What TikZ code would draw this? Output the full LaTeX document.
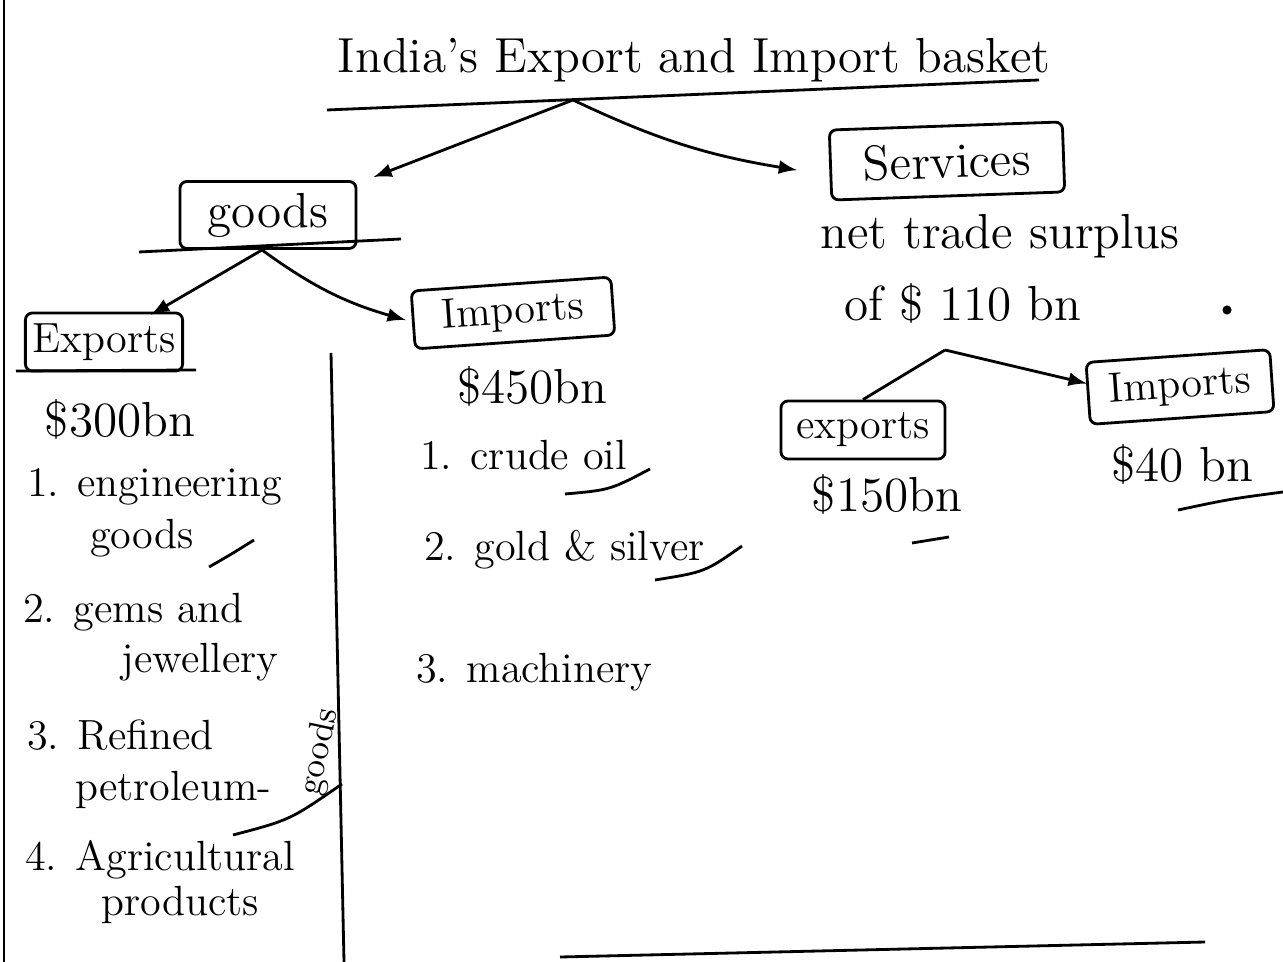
\documentclass[tikz,border=0pt]{standalone}
\usepackage{tikz}
\usetikzlibrary{shapes, arrows.meta, positioning}

\begin{document}
\begin{tikzpicture}[x=0.01cm, y=-0.01cm, thick,
    font=\fontsize{12}{14}\selectfont,
    box/.style={draw, rounded corners=2pt, inner sep=2pt, text centered},
    big/.style={font=\fontsize{14}{16}\selectfont}]

\useasboundingbox (0,0) rectangle (1283,962);

% Title
\node[big] (title) at (694,60) {India's Export and Import basket};
\coordinate (tl) at (327,110);
\coordinate (tr) at (1039,80);
\coordinate (top) at (573,100);
\draw (tl) -- (tr);

% Goods
\node[box, big,
    minimum width=1.76cm,
    minimum height=0.67cm] (goods) at (268,215) {goods};
\coordinate (gl) at (139,252);
\coordinate (gr) at (401,239);
\coordinate (ghub) at (262,250);
\draw (gl) -- (gr);

\node[box,
    minimum width=1.51cm,
    minimum height=0.58cm] (exp) at (104,342) {Exports};
\coordinate (el) at (16,371);
\coordinate (er) at (196,370);
\draw (el) -- (er);
\node[big, below=0.14cm of exp, xshift=0.16cm] (expval) {\$300bn};

\node[box, rotate=4,
    minimum width=2.0cm,
    minimum height=0.58cm] (imp) at (513,313) {Imports};
\node[big, below=0.1cm of imp, xshift=0.17cm] (impval) {\$450bn};

% Services
\node[box, big, rotate=2,
    minimum width=2.33cm,
    minimum height=0.70cm] (serv) at (947,161) {Services};
\node[big] (surplus) at (1000,236) {net trade surplus};
\node[big] (net) at (963,303) {of \$ 110 bn};
\fill (1227,310) circle (1.3pt);

\coordinate (shub) at (945,350);
\node[box,
    minimum width=1.64cm,
    minimum height=0.58cm] (sexp) at (863,430) {exports};
\node[box, rotate=4,
    minimum width=1.84cm,
    minimum height=0.62cm] (simp) at (1180,387) {Imports};
\node[big] (sexpval) at (887,494) {\$150bn};
\node[big] (simpval) at (1182,464) {\$40 bn};

% Export items
\node[anchor=west] (e1) at (14,487) {1. engineering};
\node (e1b) at (142,538) {goods};
\node[anchor=west] (e2) at (10,612) {2. gems and};
\node (e2b) at (200,662) {jewellery};
\node[anchor=west] (e3) at (14,735) {3. Refined};
\node[anchor=west] (e3b) at (62,790) {petroleum-};
\node[rotate=78, inner sep=0pt,
    font=\fontsize{10}{12}\selectfont] (e3c) at (320,752) {goods};
\node[anchor=west] (e4) at (12,860) {4. Agricultural};
\node (e4b) at (180,905) {products};

% Import items
\node[anchor=west] (i1) at (407,455) {1. crude oil};
\node[anchor=west] (i2) at (411,550) {2. gold \& silver};
\node[anchor=west] (i3) at (403,672) {3. machinery};

% Arrows
\draw[-latex] (top) -- ([xshift=0.16cm,yshift=0.03cm]goods.north east);
\draw[-latex] (top) to[bend right=8] ([xshift=-0.32cm,yshift=-0.05cm]serv.west);
\draw[-latex] (ghub) -- ([xshift=0.47cm,yshift=-0.03cm]exp.north);
\draw[-latex] (ghub) to[bend right=10] ([xshift=-0.06cm]imp.west);
\draw (shub) -- (sexp.north);
\draw[-latex] (shub) -- ([yshift=0.1cm]simp.west);

% Dividers
\coordinate (vt) at (331,353);
\coordinate (vb) at (344,962);
\draw (vt) -- (vb);
\draw (4,0) -- (4,962);
\draw (560,957) -- (1205,942);

% Ticks
\draw (209,567) .. controls (230,555) .. (254,540);
\draw (565,494) .. controls (610,490) .. (650,469);
\draw (655,580) .. controls (705,572) .. (742,546);
\draw (912,543) -- (949,537);
\draw (1178,510) .. controls (1230,499) .. (1283,492);
\draw (233,835) .. controls (290,820) .. (342,784);

\end{tikzpicture}
\end{document}
